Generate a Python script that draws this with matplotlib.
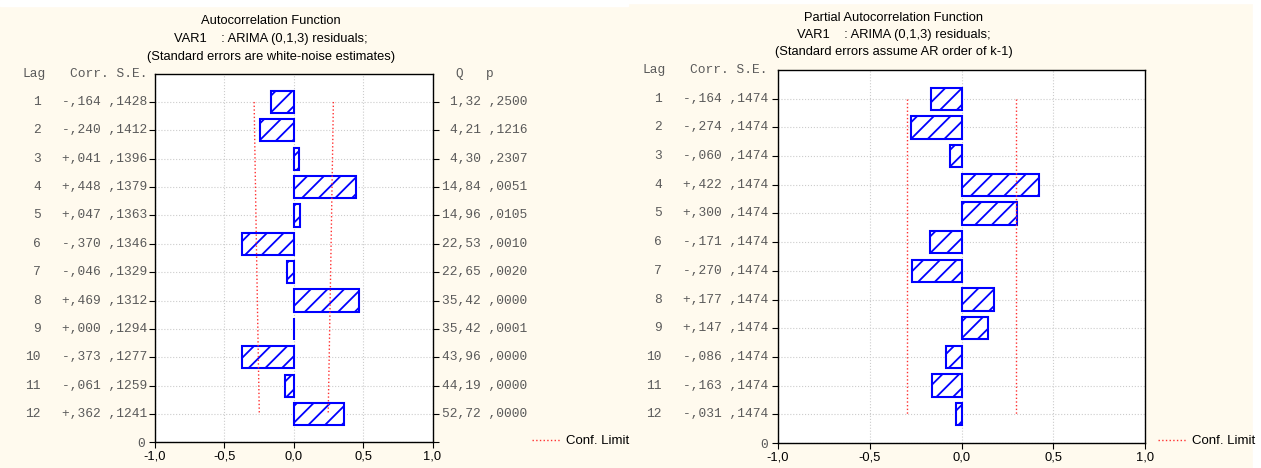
import matplotlib
matplotlib.use("Agg")
from matplotlib import pyplot as plt
from matplotlib import transforms
from matplotlib.lines import Line2D
from matplotlib.patches import Rectangle

lags = [1, 2, 3, 4, 5, 6, 7, 8, 9, 10, 11, 12]
acf = [-0.164, -0.240, 0.041, 0.448, 0.047, -0.370, -0.046, 0.469, 0.000, -0.373, -0.061, 0.362]
acf_se = [0.1428, 0.1412, 0.1396, 0.1379, 0.1363, 0.1346, 0.1329, 0.1312, 0.1294, 0.1277, 0.1259, 0.1241]
q_stat = [1.32, 4.21, 4.30, 14.84, 14.96, 22.53, 22.65, 35.42, 35.42, 43.96, 44.19, 52.72]
p_val = [0.2500, 0.1216, 0.2307, 0.0051, 0.0105, 0.0010, 0.0020, 0.0000, 0.0001, 0.0000, 0.0000, 0.0000]
pacf = [-0.164, -0.274, -0.060, 0.422, 0.300, -0.171, -0.270, 0.177, 0.147, -0.086, -0.163, -0.031]
pacf_se = [0.1474] * 12
x_ticks = [-1.0, -0.5, 0.0, 0.5, 1.0]

cream = "#fffaee"
mono = "Liberation Mono"
sans = "Liberation Sans"
gray = "#5a5a5a"
fs = 9.3
plt.rcParams["hatch.linewidth"] = 1.3
plt.rcParams["hatch.color"] = "#0000ff"

W, H = 1261, 468
fig = plt.figure(figsize=(W / 100, H / 100), dpi=100, facecolor=cream)
# thin white strips at the top and right border
fig.patches.append(Rectangle((0, 1 - 6 / H), 628 / W, 6 / H, transform=fig.transFigure, color="white", zorder=0))
fig.patches.append(Rectangle((628 / W, 1 - 3 / H), 1 - 628 / W, 3 / H, transform=fig.transFigure, color="white", zorder=0))
fig.patches.append(Rectangle((1253 / W, 0), 8 / W, 1, transform=fig.transFigure, color="white", zorder=0))


def fmt_corr(v):
    s = "%.3f" % abs(v)
    return ("-" if v < 0 else "+") + s[1:].replace(".", ",")


def fmt_frac(v):
    return ("%.4f" % v)[1:].replace(".", ",")


def fmt_q(v):
    return ("%.2f" % v).replace(".", ",")


def panel(left, top, right, bottom, corr, se, titles, title_x, title_y, lag_x, col_right, legend_x, extra=None):
    ax = fig.add_axes([left / W, 1 - bottom / H, (right - left) / W, (bottom - top) / H])
    ax.set_facecolor("white")
    ypos = [13 - l for l in lags]
    ax.barh(ypos, corr, height=0.78, color="white", edgecolor="#0000ff", hatch="//", linewidth=1.5, zorder=3)
    lim = [2 * s for s in se]
    ax.plot(lim, ypos, ls=":", color="#ff3030", lw=1, zorder=4)
    ax.plot([-v for v in lim], ypos, ls=":", color="#ff3030", lw=1, zorder=4)
    ax.set_xlim(-1, 1)
    ax.set_ylim(0, 13)
    ax.set_xticks(x_ticks)
    ax.set_xticklabels([("%.1f" % v).replace(".", ",") for v in x_ticks], fontfamily=sans, fontsize=9.3)
    ax.set_yticks([0] + ypos)
    ax.set_yticklabels(["0"] + [""] * 12, fontfamily=mono, fontsize=fs, color=gray)
    ax.tick_params(axis="y", length=4, direction="out", right=extra is not None)
    ax.tick_params(axis="x", length=4, direction="out", pad=2)
    ax.grid(True, color="#cccccc", ls=":", lw=0.8, zorder=0)
    for sp in ax.spines.values():
        sp.set_linewidth(1.0)

    tr = transforms.blended_transform_factory(fig.transFigure, ax.transData)
    for l, c, s, y in zip(lags, corr, se, ypos):
        ax.text(lag_x / W, y, str(l), transform=tr, ha="right", va="center", fontfamily=mono, fontsize=fs, color=gray)
        ax.text(col_right / W, y, fmt_corr(c) + " " + fmt_frac(s), transform=tr, ha="right", va="center",
                fontfamily=mono, fontsize=fs, color=gray)
    ax.text((lag_x - 19) / W, 13, "Lag", transform=tr, ha="left", va="center", fontfamily=mono, fontsize=fs, color=gray)
    ax.text(col_right / W, 13, "Corr. S.E.", transform=tr, ha="right", va="center", fontfamily=mono, fontsize=fs, color=gray)

    if extra is not None:
        q, p = extra
        for qq, pp, y in zip(q, p, ypos):
            ax.text(527 / W, y, fmt_q(qq) + " " + fmt_frac(pp), transform=tr, ha="right", va="center",
                    fontfamily=mono, fontsize=fs, color=gray)
        ax.text(459 / W, 13, "Q", transform=tr, ha="center", va="center", fontfamily=mono, fontsize=fs, color=gray)
        ax.text(490 / W, 13, "p", transform=tr, ha="center", va="center", fontfamily=mono, fontsize=fs, color=gray)

    for t, y in zip(titles, title_y):
        fig.text(title_x / W, 1 - y / H, t, ha="center", va="center", fontfamily=sans, fontsize=fs)

    fig.legend(handles=[Line2D([], [], ls=":", color="#ff3030", lw=1)], labels=["Conf. Limit"],
               loc="center left", bbox_to_anchor=(legend_x / W, 1 - 441 / H), frameon=False,
               prop={"family": sans, "size": 9.5}, handlelength=2.2, handletextpad=0.4, borderaxespad=0, borderpad=0)
    return ax


panel(155, 73.6, 432.5, 442.4, acf, acf_se,
      ["Autocorrelation Function", "VAR1    : ARIMA (0,1,3) residuals;", "(Standard errors are white-noise estimates)"],
      271, [21, 39, 57], 41, 147, 532, extra=(q_stat, p_val))
panel(778, 70, 1145, 443, pacf, pacf_se,
      ["Partial Autocorrelation Function", "VAR1    : ARIMA (0,1,3) residuals;", "(Standard errors assume AR order of k-1)"],
      894, [18, 35, 52], 662, 768, 1158)

fig.savefig("out.png", dpi=100, facecolor=cream)
